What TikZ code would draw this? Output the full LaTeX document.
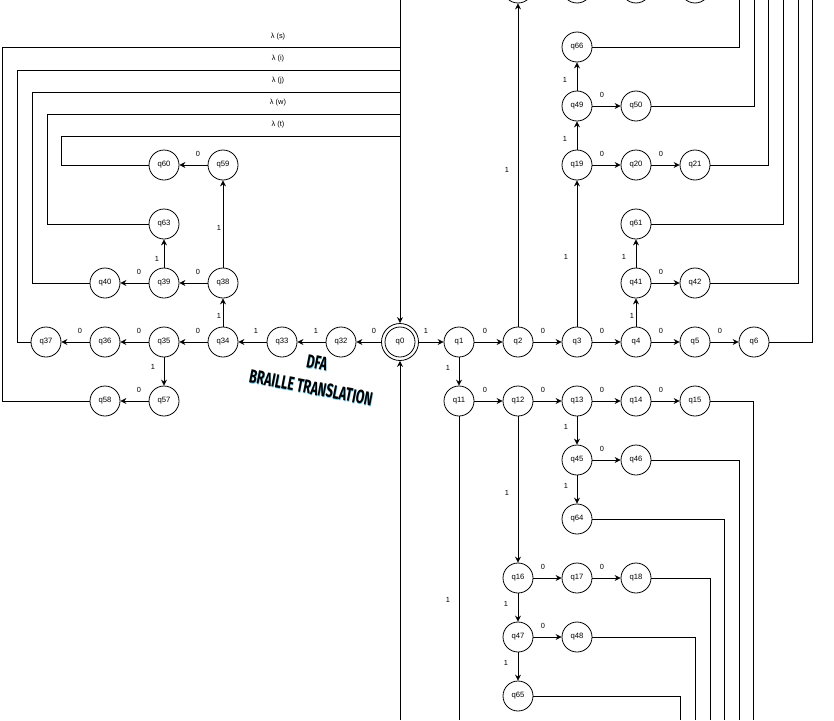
\documentclass[tikz,border=0pt]{standalone}
\usepackage{fontspec}
\setmainfont{Liberation Sans}
\newfontfamily\titlefont{Fira Sans}
\usetikzlibrary{arrows.meta}
\definecolor{shadowcyan}{RGB}{110,205,240}
\newcommand{\shadowtext}[1]{\scalebox{0.65}[1]{\makebox[0pt][l]{\hspace{0.9pt}\raisebox{-0.9pt}{\color{shadowcyan}#1}}#1}}
\tikzset{
  st/.style={circle,draw,line width=0.8pt,minimum size=30pt,inner sep=0pt,font=\fontsize{7.7}{8}\selectfont},
  arr/.style={line width=0.8pt,-{Stealth[length=6pt,width=6pt,inset=2pt]}},
  ln/.style={line width=0.8pt},
  lbl/.style={font=\fontsize{7.4}{8}\selectfont,inner sep=0pt},
  ttl/.style={font=\titlefont\bfseries\fontsize{19}{19}\selectfont,rotate=-11,inner sep=0pt},
}
\begin{document}
\begin{tikzpicture}[x=1pt,y=-1pt]
\useasboundingbox (0,0) rectangle (834,720);
% states
\node[st,minimum size=37pt] (q0) at (400,342) {q0};
\draw[ln] (q0.center) circle (15pt);
\foreach \n/\x/\y in {q1/459/342,q2/518/342,q3/577/342,q4/636/342,q5/695/342,q6/754/342,
  q32/341/342,q33/282/342,q34/223/342,q35/164/342,q36/105/342,q37/46/342,
  q38/223/283,q39/164/283,q40/105/283,q63/164/224,q59/223/165,q60/164/165,q57/164/401,q58/105/401,
  q41/636/283,q42/695/283,q61/636/224,
  q19/577/165,q20/636/165,q21/695/165,q49/577/106,q50/636/106,q66/577/47,
  q11/459/401,q12/518/401,q13/577/401,q14/636/401,q15/695/401,
  q45/577/460,q46/636/460,q64/577/519,
  q16/518/578,q17/577/578,q18/636/578,q47/518/637,q48/577/637,q65/518/696}
  {\node[st] (\n) at (\x,\y) {\n};}
\foreach \n/\x in {t1/518,t2/577,t3/636,t4/695}
  {\node[st] (\n) at (\x,-12) {};}
% free ends
\coordinate (top0) at (400,0);
\coordinate (bot0) at (400,720);
\coordinate (bot11) at (459,720);
% main row
\draw[arr] (q0) -- (q1) node[lbl] at (426,331) {1};
\draw[arr] (q1) -- (q2) node[lbl] at (485,331) {0};
\draw[arr] (q2) -- (q3) node[lbl] at (543,331) {0};
\draw[arr] (q3) -- (q4) node[lbl] at (602,331) {0};
\draw[arr] (q4) -- (q5) node[lbl] at (661,331) {0};
\draw[arr] (q5) -- (q6) node[lbl] at (720,331) {0};
\draw[arr] (q2) -- (t1) node[lbl] at (507,170) {1};
\draw[arr] (q3) -- (q19) node[lbl] at (566,257) {1};
\draw[arr] (q4) -- (q41) node[lbl] at (632,316) {1};
\draw[arr] (q41) -- (q61) node[lbl] at (624,257) {1};
\draw[arr] (q41) -- (q42) node[lbl] at (661,272) {0};
\draw[arr] (q19) -- (q49) node[lbl] at (565,139) {1};
\draw[arr] (q49) -- (q66) node[lbl] at (565,80) {1};
\draw[arr] (q49) -- (q50) node[lbl] at (602,95) {0};
\draw[arr] (q19) -- (q20) node[lbl] at (602,154) {0};
\draw[arr] (q20) -- (q21) node[lbl] at (661,154) {0};
% lower right
\draw[arr] (q1) -- (q11) node[lbl] at (448,368) {1};
\draw[arr] (q11) -- (q12) node[lbl] at (485,390) {0};
\draw[arr] (q12) -- (q13) node[lbl] at (543,390) {0};
\draw[arr] (q13) -- (q14) node[lbl] at (602,390) {0};
\draw[arr] (q14) -- (q15) node[lbl] at (661,390) {0};
\draw[arr] (q13) -- (q45) node[lbl] at (566,427) {1};
\draw[arr] (q45) -- (q46) node[lbl] at (602,449) {0};
\draw[arr] (q45) -- (q64) node[lbl] at (566,486) {1};
\draw[arr] (q12) -- (q16) node[lbl] at (507,493) {1};
\draw[arr] (q16) -- (q17) node[lbl] at (543,567) {0};
\draw[arr] (q17) -- (q18) node[lbl] at (602,567) {0};
\draw[arr] (q16) -- (q47) node[lbl] at (506,604) {1};
\draw[arr] (q47) -- (q48) node[lbl] at (543,626) {0};
\draw[arr] (q47) -- (q65) node[lbl] at (506,663) {1};
\draw[ln] (q11) -- (bot11) node[lbl] at (448,600) {1};
% left side
\draw[arr] (q0) -- (q32) node[lbl] at (374,331) {0};
\draw[arr] (q32) -- (q33) node[lbl] at (316,331) {1};
\draw[arr] (q33) -- (q34) node[lbl] at (256,331) {1};
\draw[arr] (q34) -- (q35) node[lbl] at (198,331) {0};
\draw[arr] (q35) -- (q36) node[lbl] at (139,331) {0};
\draw[arr] (q36) -- (q37) node[lbl] at (80,331) {0};
\draw[arr] (q34) -- (q38) node[lbl] at (219,316) {1};
\draw[arr] (q38) -- (q39) node[lbl] at (198,272) {0};
\draw[arr] (q39) -- (q40) node[lbl] at (139,272) {0};
\draw[arr] (q39) -- (q63) node[lbl] at (157,259) {1};
\draw[arr] (q38) -- (q59) node[lbl] at (219,228) {1};
\draw[arr] (q59) -- (q60) node[lbl] at (198,154) {0};
\draw[arr] (q35) -- (q57) node[lbl] at (153,367) {1};
\draw[arr] (q57) -- (q58) node[lbl] at (139,390) {0};
% return lines into q0
\draw[arr] (top0) -- (q0);
\draw[arr] (bot0) -- (q0);
\draw[ln] (q58) -- (2.7,401) -- (2.7,47) -- (400,47);
\draw[ln] (q37) -- (17.3,342) -- (17.3,70) -- (400,70);
\draw[ln] (q40) -- (32,283) -- (32,92) -- (400,92);
\draw[ln] (q63) -- (47,224) -- (47,114) -- (400,114);
\draw[ln] (q60) -- (61.7,165) -- (61.7,136) -- (400,136);
\node[lbl] at (278,36.5) {λ (s)};
\node[lbl] at (278,58.5) {λ (i)};
\node[lbl] at (278,81) {λ (j)};
\node[lbl] at (278,103) {λ (w)};
\node[lbl] at (278,125) {λ (t)};
% right return lines (upwards)
\draw[ln] (q66) -- (739,47) -- (739,0);
\draw[ln] (q50) -- (754,106) -- (754,0);
\draw[ln] (q21) -- (768.7,165) -- (768.7,0);
\draw[ln] (q61) -- (783,224) -- (783,0);
\draw[ln] (q42) -- (798,283) -- (798,0);
\draw[ln] (q6) -- (812.7,342) -- (812.7,0);
% right return lines (downwards)
\draw[ln] (q15) -- (753,401) -- (753,720);
\draw[ln] (q46) -- (739,460) -- (739,720);
\draw[ln] (q64) -- (724,519) -- (724,720);
\draw[ln] (q18) -- (710,578) -- (710,720);
\draw[ln] (q48) -- (695,637) -- (695,720);
\draw[ln] (q65) -- (680.5,696) -- (680.5,720);
% title
\node[ttl] (tdfa) at (317,363) {\shadowtext{DFA}};
\node[ttl] (title) at (311,388) {\shadowtext{BRAILLE TRANSLATION}};
\end{tikzpicture}
\end{document}
